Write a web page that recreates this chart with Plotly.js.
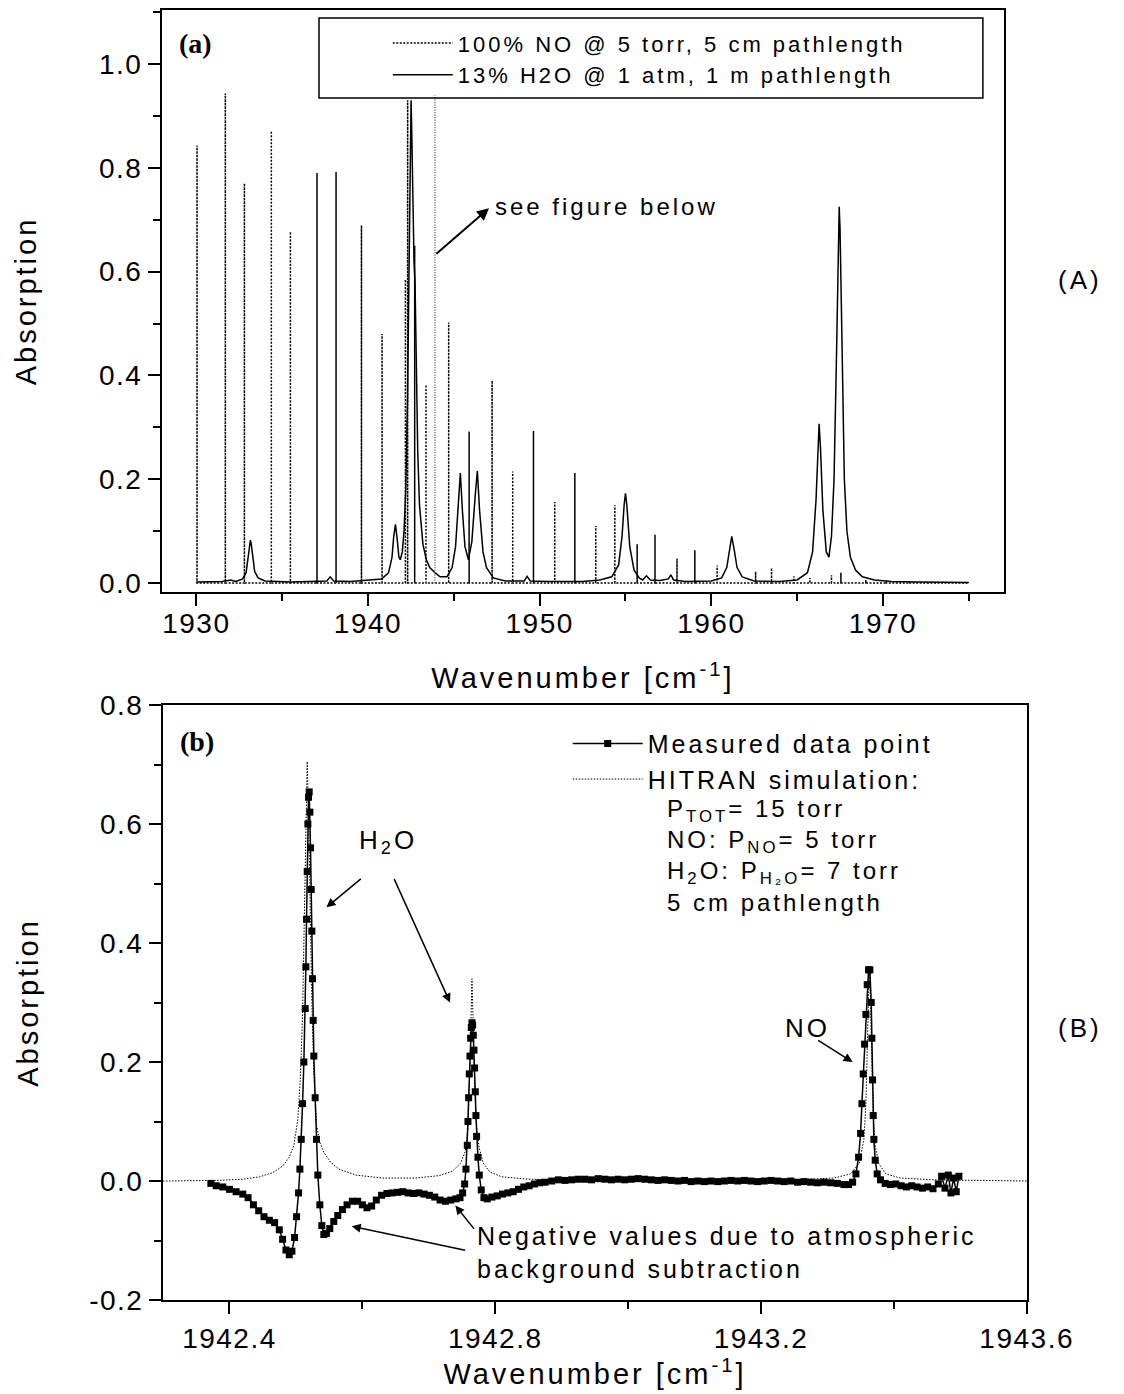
<!DOCTYPE html>
<html><head><meta charset="utf-8">
<script src="https://cdn.plot.ly/plotly-3.0.1.min.js"></script>
<style>
html,body{margin:0;padding:0;background:#fff;}
svg text{letter-spacing:3px;}
svg .xtick text, svg .ytick text, svg .x2tick text, svg .y2tick text{letter-spacing:1.5px;}
</style></head>
<body><div id="chart" style="width:1124px;height:1394px;"></div>
<script>
// ---------- Panel (a): 100% NO stick lines ----------
const noLineX = [1930.04,1931.69,1932.80,1934.37,1935.48,1937.03,1938.14,1939.62,1940.82,1942.18,1942.31,1942.72,1943.38,1944.70,1945.89,1947.23,1948.43,1949.64,1950.88,1952.05,1953.27,1954.38,1955.68,1956.72,1958.00,1959.04,1960.34,1962.58,1963.51,1964.81,1965.74,1967.00,1967.55,1969.00,1970.20,1971.50,1972.60];
const noLineH = [0.843,0.943,0.770,0.871,0.677,0.790,0.792,0.689,0.480,0.585,0.930,0.650,0.382,0.502,0.292,0.390,0.215,0.293,0.156,0.212,0.110,0.150,0.075,0.093,0.047,0.063,0.034,0.022,0.029,0.013,0.010,0.015,0.020,0.006,0.005,0.004,0.003];
const noRange = [1930.0, 1975.0];
// "see figure below" marker line
const markX = [1943.90];
const markH = [0.94];

// ---------- Panel (a): 13% H2O spectrum ----------
const h2oX = [1930.0,1931.5,1932.0,1932.3,1932.7,1932.9,1933.0,1933.1,1933.15,1933.2,1933.3,1933.4,1933.6,1934.0,1935.5,1937.6,1937.8,1938.0,1939.0,1940.2,1940.8,1941.2,1941.4,1941.5,1941.6,1941.7,1941.8,1941.88,1942.0,1942.1,1942.2,1942.3,1942.4,1942.46,1942.51,1942.56,1942.62,1942.68,1942.74,1942.8,1942.9,1943.0,1943.2,1943.4,1943.6,1943.9,1944.2,1944.6,1944.9,1945.1,1945.25,1945.38,1945.5,1945.65,1945.85,1946.05,1946.25,1946.37,1946.5,1946.7,1946.9,1947.3,1948.0,1949.1,1949.27,1949.45,1950.5,1951.5,1952.5,1953.5,1954.2,1954.6,1954.8,1954.92,1955.0,1955.08,1955.25,1955.5,1955.8,1956.0,1956.22,1956.45,1957.0,1957.5,1957.64,1957.8,1958.5,1960.0,1960.6,1960.9,1961.05,1961.19,1961.33,1961.5,1961.8,1962.5,1964.0,1965.0,1965.6,1965.9,1966.1,1966.2,1966.28,1966.36,1966.5,1966.7,1966.85,1967.0,1967.15,1967.3,1967.4,1967.45,1967.5,1967.6,1967.75,1967.9,1968.1,1968.4,1968.8,1969.5,1970.5,1972.0,1975.0];
const h2oY = [0.002,0.003,0.006,0.003,0.008,0.020,0.045,0.075,0.083,0.075,0.045,0.022,0.010,0.004,0.002,0.004,0.012,0.004,0.003,0.006,0.008,0.020,0.050,0.090,0.113,0.085,0.050,0.045,0.060,0.100,0.180,0.350,0.620,0.820,0.930,0.850,0.700,0.620,0.580,0.450,0.250,0.150,0.075,0.045,0.030,0.020,0.012,0.012,0.030,0.070,0.150,0.212,0.140,0.070,0.045,0.080,0.170,0.216,0.140,0.060,0.030,0.010,0.004,0.004,0.013,0.004,0.003,0.003,0.003,0.006,0.012,0.035,0.090,0.150,0.173,0.150,0.070,0.025,0.010,0.006,0.014,0.006,0.005,0.008,0.016,0.006,0.003,0.004,0.010,0.030,0.065,0.090,0.065,0.030,0.012,0.004,0.003,0.006,0.020,0.060,0.160,0.260,0.307,0.260,0.140,0.060,0.050,0.090,0.200,0.450,0.680,0.725,0.680,0.450,0.200,0.100,0.050,0.025,0.012,0.006,0.003,0.002,0.001];

// ---------- Panel (b): measured data ----------
const measX = [1942.372,1942.380,1942.390,1942.400,1942.410,1942.420,1942.428,1942.436,1942.444,1942.452,1942.460,1942.468,1942.475,1942.480,1942.485,1942.490,1942.494,1942.498,1942.501,1942.504,1942.506,1942.508,1942.510,1942.512,1942.514,1942.515,1942.516,1942.517,1942.518,1942.519,1942.520,1942.521,1942.522,1942.523,1942.524,1942.525,1942.526,1942.527,1942.529,1942.531,1942.533,1942.536,1942.539,1942.542,1942.546,1942.551,1942.557,1942.563,1942.570,1942.577,1942.585,1942.593,1942.600,1942.607,1942.614,1942.621,1942.629,1942.637,1942.645,1942.653,1942.661,1942.669,1942.677,1942.685,1942.693,1942.701,1942.709,1942.717,1942.725,1942.733,1942.741,1942.747,1942.751,1942.754,1942.756,1942.758,1942.759,1942.760,1942.761,1942.762,1942.763,1942.764,1942.765,1942.766,1942.767,1942.768,1942.769,1942.770,1942.771,1942.772,1942.774,1942.776,1942.779,1942.783,1942.788,1942.795,1942.803,1942.811,1942.819,1942.827,1942.835,1942.843,1942.851,1942.859,1942.867,1942.875,1942.885,1942.895,1942.905,1942.915,1942.925,1942.935,1942.945,1942.955,1942.965,1942.975,1942.985,1942.995,1943.005,1943.015,1943.025,1943.035,1943.045,1943.055,1943.065,1943.075,1943.085,1943.095,1943.105,1943.115,1943.125,1943.135,1943.145,1943.155,1943.165,1943.175,1943.185,1943.195,1943.205,1943.215,1943.225,1943.235,1943.245,1943.255,1943.265,1943.275,1943.285,1943.295,1943.305,1943.315,1943.325,1943.332,1943.338,1943.343,1943.347,1943.350,1943.352,1943.354,1943.356,1943.358,1943.360,1943.362,1943.364,1943.366,1943.367,1943.368,1943.369,1943.370,1943.372,1943.375,1943.380,1943.387,1943.395,1943.403,1943.411,1943.419,1943.427,1943.435,1943.443,1943.451,1943.459,1943.467,1943.472,1943.477,1943.482,1943.486,1943.490,1943.494,1943.498];
const measY = [-0.004,-0.008,-0.010,-0.014,-0.018,-0.022,-0.028,-0.040,-0.050,-0.060,-0.066,-0.070,-0.082,-0.098,-0.116,-0.124,-0.118,-0.095,-0.060,-0.020,0.020,0.070,0.130,0.200,0.290,0.360,0.440,0.520,0.600,0.645,0.654,0.620,0.560,0.490,0.420,0.340,0.270,0.210,0.140,0.070,0.010,-0.040,-0.075,-0.090,-0.088,-0.080,-0.068,-0.058,-0.048,-0.040,-0.034,-0.034,-0.040,-0.045,-0.042,-0.032,-0.024,-0.021,-0.020,-0.019,-0.018,-0.020,-0.021,-0.020,-0.022,-0.024,-0.027,-0.032,-0.034,-0.032,-0.030,-0.028,-0.020,-0.005,0.020,0.060,0.100,0.140,0.180,0.210,0.240,0.258,0.266,0.262,0.245,0.220,0.190,0.150,0.110,0.075,0.040,0.010,-0.015,-0.028,-0.030,-0.027,-0.025,-0.022,-0.020,-0.018,-0.014,-0.010,-0.008,-0.005,-0.003,-0.002,0.000,0.002,0.001,0.002,0.003,0.003,0.002,0.004,0.003,0.002,0.003,0.002,0.003,0.004,0.003,0.002,0.001,0.002,0.001,0.000,0.001,-0.001,0.000,-0.001,0.000,-0.001,0.000,0.001,0.000,0.001,0.000,-0.001,0.000,0.001,0.000,-0.001,0.000,-0.002,-0.001,-0.002,-0.003,-0.002,-0.003,-0.004,-0.006,-0.006,-0.002,0.012,0.040,0.080,0.130,0.180,0.230,0.280,0.330,0.355,0.355,0.300,0.240,0.170,0.110,0.070,0.035,0.012,0.002,-0.004,-0.006,-0.005,-0.008,-0.010,-0.008,-0.010,-0.012,-0.010,-0.013,-0.005,0.008,-0.012,0.010,-0.020,0.005,-0.018,0.008];

// ---------- Panel (b): HITRAN simulation ----------
const hitX = [1942.300,1942.380,1942.420,1942.445,1942.465,1942.480,1942.490,1942.497,1942.503,1942.507,1942.510,1942.513,1942.515,1942.517,1942.519,1942.521,1942.524,1942.527,1942.531,1942.536,1942.542,1942.552,1942.565,1942.590,1942.630,1942.680,1942.715,1942.735,1942.748,1942.755,1942.759,1942.761,1942.763,1942.765,1942.767,1942.769,1942.772,1942.776,1942.782,1942.792,1942.810,1942.850,1942.950,1943.100,1943.250,1943.310,1943.335,1943.348,1943.355,1943.358,1943.360,1943.362,1943.363,1943.365,1943.367,1943.369,1943.372,1943.377,1943.388,1943.410,1943.460,1943.600];
const hitY = [0.000,0.001,0.003,0.007,0.014,0.025,0.040,0.060,0.105,0.180,0.280,0.450,0.600,0.705,0.620,0.470,0.300,0.180,0.095,0.065,0.048,0.032,0.020,0.010,0.005,0.005,0.009,0.016,0.030,0.050,0.090,0.150,0.250,0.340,0.260,0.160,0.090,0.055,0.030,0.015,0.007,0.003,0.001,0.001,0.002,0.005,0.012,0.030,0.070,0.130,0.220,0.310,0.357,0.300,0.190,0.110,0.060,0.030,0.012,0.005,0.002,0.000];

// tick labels of panel (b) y axis
const y2TickVals = [-0.2, 0.0, 0.2, 0.4, 0.6, 0.8];
const y2TickText = ['-0.2', '0.0', '0.2', '0.4', '0.6', '0.8'];

// build stick path for NO lines from the arrays
function sticks(xs, hs, x0, x1) {
  const X = [], Y = [];
  if (x0 !== null) { X.push(x0); Y.push(0); }
  xs.forEach((x, i) => { X.push(x, x, x); Y.push(0, hs[i], 0); });
  if (x1 !== null) { X.push(x1); Y.push(0); }
  return {X, Y};
}
const noPath = sticks(noLineX, noLineH, noRange[0], noRange[1]);
const markPath = sticks(markX, markH, null, null);

const SANS = 'Liberation Sans, Arial, sans-serif';
const SERIF = 'Liberation Serif, Times New Roman, serif';

const traces = [
  {x: noPath.X, y: noPath.Y, xaxis: 'x', yaxis: 'y', mode: 'lines', name: '100% NO @ 5 torr, 5 cm pathlength',
   line: {color: '#000', width: 1.5, dash: '2px,1.5px'}, legend: 'legend'},
  {x: h2oX, y: h2oY, xaxis: 'x', yaxis: 'y', mode: 'lines', name: '13% H2O @ 1 atm, 1 m pathlength',
   line: {color: '#000', width: 1.5}, legend: 'legend'},
  {x: markPath.X, y: markPath.Y, xaxis: 'x', yaxis: 'y', mode: 'lines', showlegend: false,
   line: {color: '#666', width: 0.9, dash: '1px,1.5px'}, hoverinfo: 'skip'},
  {x: measX, y: measY, xaxis: 'x2', yaxis: 'y2', mode: 'lines+markers', name: 'Measured data point',
   line: {color: '#000', width: 1.5}, marker: {symbol: 'square', size: 7, color: '#000'}, legend: 'legend2'},
  {x: hitX, y: hitY, xaxis: 'x2', yaxis: 'y2', mode: 'lines', name: 'HITRAN simulation:',
   line: {color: '#000', width: 1, dash: '1.5px,1.5px'}, legend: 'legend2'}
];

const axCommon = {
  showgrid: false, zeroline: false, showline: true, mirror: true, linecolor: '#000', linewidth: 2,
  ticks: 'outside', ticklen: 12, tickwidth: 2, tickcolor: '#000',
  tickfont: {family: SANS, size: 28, color: '#000'}
};

const layout = {
  width: 1124, height: 1394,
  margin: {l: 162, r: 97, t: 10, b: 94},
  paper_bgcolor: '#fff', plot_bgcolor: '#fff',
  showlegend: true,
  font: {family: SANS, color: '#000'},
  xaxis: Object.assign({}, axCommon, {
    domain: [0, 0.9734], anchor: 'y', range: [1928.0, 1977.05], tick0: 1930, dtick: 10, ticklabelstandoff: -7,
    minor: {dtick: 5, tick0: 1930, ticks: 'outside', ticklen: 7, tickwidth: 2, tickcolor: '#000'},
    title: {text: 'Wavenumber [cm<sup>-1</sup>]', font: {family: SANS, size: 29, color: '#000'}, standoff: 30}
  }),
  yaxis: Object.assign({}, axCommon, {
    domain: [0.5488, 1], anchor: 'x', range: [-0.0173, 1.104], tick0: 0, dtick: 0.2, tickformat: '.1f',
    minor: {dtick: 0.1, tick0: 0, ticks: 'outside', ticklen: 7, tickwidth: 2, tickcolor: '#000'},
    title: {text: 'Absorption', font: {family: SANS, size: 29, color: '#000'}, standoff: 54}
  }),
  xaxis2: Object.assign({}, axCommon, {
    domain: [0.0012, 1], anchor: 'y2', range: [1942.3, 1943.6005], tick0: 1942.4, dtick: 0.4, tickformat: '.1f',
    minor: {dtick: 0.2, tick0: 1942.4, ticks: 'outside', ticklen: 7, tickwidth: 2, tickcolor: '#000'},
    title: {text: 'Wavenumber [cm<sup>-1</sup>]', font: {family: SANS, size: 29, color: '#000'}, standoff: 6}
  }),
  yaxis2: Object.assign({}, axCommon, {
    domain: [0, 0.4612], anchor: 'x2', range: [-0.2, 0.8], tickmode: 'array', tickvals: y2TickVals, ticktext: y2TickText,
    minor: {dtick: 0.1, tick0: 0, ticks: 'outside', ticklen: 7, tickwidth: 2, tickcolor: '#000'},
    title: {text: 'Absorption', font: {family: SANS, size: 29, color: '#000'}, standoff: 42}
  }),
  legend: {x: 0.261, y: 0.9905, xanchor: 'left', yanchor: 'top', bgcolor: 'rgba(0,0,0,0)', borderwidth: 0,
    itemwidth: 60, font: {family: SANS, size: 22, color: '#000'}, tracegroupgap: 0},
  legend2: {x: 0.469, y: 0.449, xanchor: 'left', yanchor: 'top', bgcolor: 'rgba(0,0,0,0)', borderwidth: 0,
    itemwidth: 70, font: {family: SANS, size: 25, color: '#000'}, tracegroupgap: 0},
  shapes: [
    {type: 'rect', xref: 'paper', yref: 'paper', x0: 0.1815, x1: 0.949, y0: 0.9318, y1: 0.9938,
     line: {color: '#000', width: 1.5}, fillcolor: 'rgba(0,0,0,0)'}
  ],
  annotations: [
    {xref: 'x', yref: 'y', x: 1928.9, y: 1.04, xanchor: 'left', yanchor: 'middle', showarrow: false,
     text: '<span style="letter-spacing:0px"><b>(a)</b></span>', font: {family: SERIF, size: 28, color: '#000'}},
    {xref: 'x', yref: 'y', x: 1947.28, y: 0.725, xanchor: 'left', yanchor: 'middle', showarrow: false,
     text: 'see figure below', font: {family: SANS, size: 24, color: '#000'}},
    {xref: 'x', yref: 'y', x: 1947.05, y: 0.722, axref: 'x', ayref: 'y', ax: 1943.9, ay: 0.632, text: '',
     showarrow: true, arrowhead: 2, arrowsize: 1.2, arrowwidth: 2, arrowcolor: '#000'},
    {xref: 'paper', yref: 'paper', x: 1.061, y: 0.791, xanchor: 'center', yanchor: 'middle', showarrow: false,
     text: '(A)', font: {family: SANS, size: 26, color: '#000'}},
    {xref: 'x2', yref: 'y2', x: 1942.3226, y: 0.738, xanchor: 'left', yanchor: 'middle', showarrow: false,
     text: '<span style="letter-spacing:0px"><b>(b)</b></span>', font: {family: SERIF, size: 28, color: '#000'}},
    {xref: 'x2', yref: 'y2', x: 1942.639, y: 0.57, xanchor: 'center', yanchor: 'middle', showarrow: false,
     text: 'H<sub>2</sub>O', font: {family: SANS, size: 26, color: '#000'}},
    {xref: 'x2', yref: 'y2', x: 1942.546, y: 0.46, axref: 'x2', ayref: 'y2', ax: 1942.600, ay: 0.51, text: '',
     showarrow: true, arrowhead: 2, arrowsize: 1.2, arrowwidth: 1.5, arrowcolor: '#000'},
    {xref: 'x2', yref: 'y2', x: 1942.732, y: 0.300, axref: 'x2', ayref: 'y2', ax: 1942.647, ay: 0.51, text: '',
     showarrow: true, arrowhead: 2, arrowsize: 1.2, arrowwidth: 1.5, arrowcolor: '#000'},
    {xref: 'x2', yref: 'y2', x: 1943.27, y: 0.258, xanchor: 'center', yanchor: 'middle', showarrow: false,
     text: 'NO', font: {family: SANS, size: 26, color: '#000'}},
    {xref: 'x2', yref: 'y2', x: 1943.338, y: 0.200, axref: 'x2', ayref: 'y2', ax: 1943.284, ay: 0.238, text: '',
     showarrow: true, arrowhead: 2, arrowsize: 1.2, arrowwidth: 1.5, arrowcolor: '#000'},
    {xref: 'x2', yref: 'y2', x: 1942.77, y: -0.12, xanchor: 'left', yanchor: 'middle', align: 'left', showarrow: false,
     text: 'Negative values due to atmospheric<br>background subtraction', font: {family: SANS, size: 25, color: '#000'}},
    {xref: 'x2', yref: 'y2', x: 1942.584, y: -0.076, axref: 'x2', ayref: 'y2', ax: 1942.757, ay: -0.117, text: '',
     showarrow: true, arrowhead: 2, arrowsize: 1.2, arrowwidth: 1.5, arrowcolor: '#000'},
    {xref: 'x2', yref: 'y2', x: 1942.740, y: -0.041, axref: 'x2', ayref: 'y2', ax: 1942.770, ay: -0.083, text: '',
     showarrow: true, arrowhead: 2, arrowsize: 1.2, arrowwidth: 1.5, arrowcolor: '#000'},
    {xref: 'x2', yref: 'y2', x: 1943.055, y: 0.652, xanchor: 'left', yanchor: 'top', align: 'left', showarrow: false,
     text: 'P<sub>TOT</sub>= 15 torr<br>NO: P<sub>NO</sub>= 5 torr<br>H<sub>2</sub>O: P<sub>H₂O</sub>= 7 torr<br>5 cm pathlength',
     font: {family: SANS, size: 24, color: '#000'}},
    {xref: 'paper', yref: 'paper', x: 1.061, y: 0.211, xanchor: 'center', yanchor: 'middle', showarrow: false,
     text: '(B)', font: {family: SANS, size: 26, color: '#000'}}
  ]
};

Plotly.newPlot('chart', traces, layout, {displayModeBar: false, staticPlot: true});
</script>
</body></html>
